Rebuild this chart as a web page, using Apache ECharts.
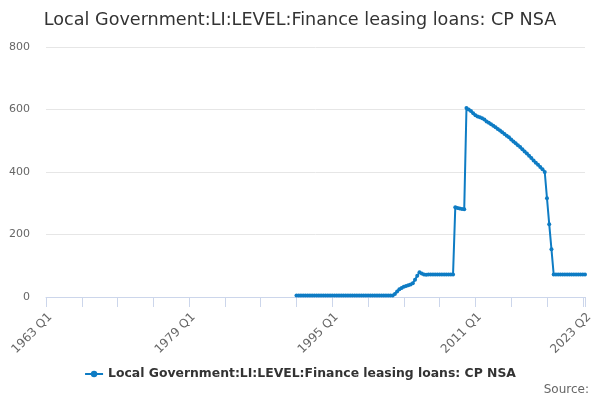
<!DOCTYPE html>
<html>
<head>
<meta charset="utf-8">
<script src="https://cdn.jsdelivr.net/npm/echarts@6/dist/echarts.min.js"></script>
<style>html,body{margin:0;padding:0;background:#fff}#c{width:600px;height:400px}</style>
</head>
<body>
<div id="c"></div>
<script>
// Category labels: quarters 1963 Q1 .. 2023 Q2
var categories = [];
for (var y = 1963; y <= 2023; y++) {
  for (var q = 1; q <= 4; q++) {
    if (y === 2023 && q > 2) break;
    categories.push(y + ' Q' + q);
  }
}
var firstDataLabel = '1991 Q1';
// Values from 1991 Q1 to 2023 Q2
var values = [
  5,5,5,5, 5,5,5,5, 5,5,5,5, 5,5,5,5, 5,5,5,5, 5,5,5,5,
  5,5,5,5, 5,5,5,5, 5,5,5,5, 5,5,5,5, 5,5,5,5,
  10,18,25,29,33,35,38,40,44,55,68,79,75,72,71,
  72,72,72,72,72,72,72,72,72,72,72,72,
  287,285,283,282,281,
  605,600,595,588,582,578,575,572,568,562,558,553,548,543,538,533,527,522,516,511,
  504,498,492,486,480,473,466,459,452,445,437,430,423,416,409,400,
  316,233,153,72,
  72,72,72,72,72,72,72,72,72,72,72,72,72,72
];
var yTicks = [0, 200, 400, 600, 800];
var seriesName = 'Local Government:LI:LEVEL:Finance leasing loans: CP NSA';
var titleText = 'Local Government:LI:LEVEL:Finance leasing loans: CP NSA';

var offset = categories.indexOf(firstDataLabel);
var seriesData = categories.map(function (c, i) {
  var k = i - offset;
  return (k >= 0 && k < values.length) ? values[k] : null;
});
var last = categories.length - 1;
var font = 'DejaVu Sans';

var chart = echarts.init(document.getElementById('c'));
chart.setOption({
  animation: false,
  textStyle: { fontFamily: font },
  title: {
    text: titleText,
    left: 'center',
    top: 6,
    textStyle: { fontFamily: font, fontSize: 17.6, fontWeight: 'normal', color: '#333333' }
  },
  graphic: [{
    type: 'text',
    right: 11,
    top: 384,
    style: { text: 'Source:', font: '12px "DejaVu Sans"', fill: '#666666' }
  }],
  legend: {
    bottom: 15,
    left: 'center',
    itemWidth: 18,
    itemHeight: 8,
    itemGap: 5,
    textStyle: { fontFamily: font, fontSize: 12.4, fontWeight: 'bold', color: '#333333' },
    data: [seriesName]
  },
  grid: { left: 46, right: 15, top: 47, bottom: 103, containLabel: false },
  xAxis: {
    type: 'category',
    data: categories,
    boundaryGap: false,
    axisLine: { lineStyle: { color: '#ccd6eb', width: 1 } },
    axisTick: {
      show: true, length: 10,
      lineStyle: { color: '#ccd6eb' },
      interval: function (i) { return i % 16 === 0 || i === last; }
    },
    axisLabel: {
      rotate: 45,
      fontSize: 12,
      color: '#666666',
      margin: 14,
      verticalAlign: 'top',
      interval: function (i) { return i % 64 === 0 || i === last; }
    },
    splitLine: { show: false }
  },
  yAxis: {
    type: 'value',
    min: yTicks[0],
    max: yTicks[yTicks.length - 1],
    interval: 200,
    axisLine: { show: false },
    axisTick: { show: false },
    axisLabel: { fontSize: 11, color: '#666666', margin: 16 },
    splitLine: { lineStyle: { color: '#e6e6e6' } }
  },
  series: [{
    name: seriesName,
    type: 'line',
    data: seriesData,
    connectNulls: false,
    showAllSymbol: true,
    symbol: 'circle',
    symbolSize: 4,
    lineStyle: { width: 2, color: '#0e7cc4' },
    itemStyle: { color: '#0e7cc4' }
  }]
});
</script>
</body>
</html>
